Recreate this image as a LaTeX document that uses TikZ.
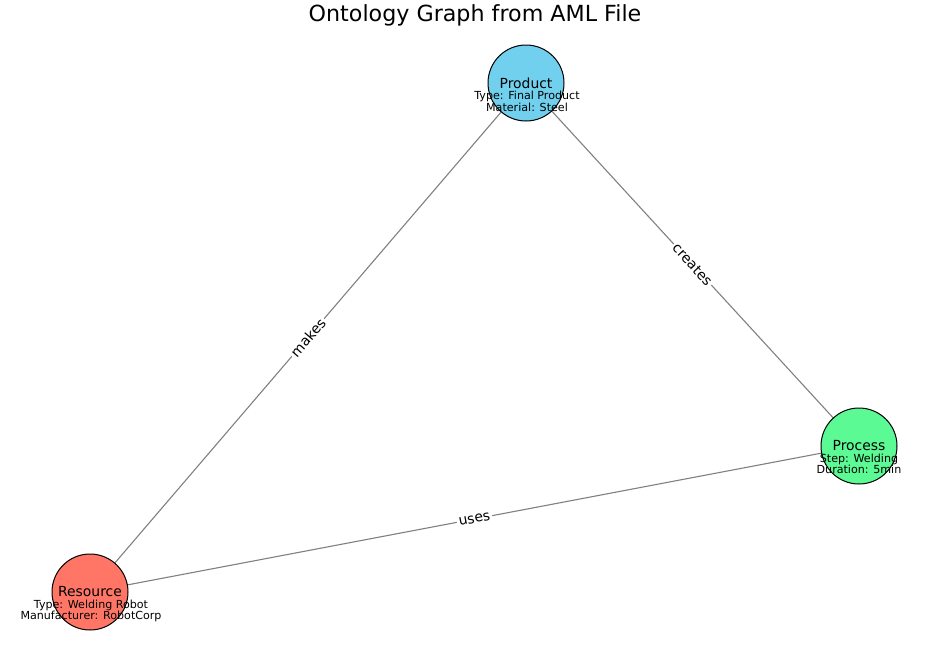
\documentclass[tikz,border=0pt]{standalone}
\usepackage{fontspec}
\setmainfont{DejaVu Sans}
\definecolor{prodc}{HTML}{70D0EE}
\definecolor{procc}{HTML}{5CFA94}
\definecolor{resc}{HTML}{FF7666}
\begin{document}
\begin{tikzpicture}[x=1pt,y=-1pt,
  ent/.style={circle,draw=black,line width=1pt,minimum size=76pt,inner sep=0pt,font=\fontsize{13.9}{16}\selectfont},
  attr/.style={align=center,inner sep=0pt,font=\fontsize{11.1}{11.6}\selectfont},
  rel/.style={draw=gray,line width=1.1pt},
  rlab/.style={sloped,fill=white,inner sep=2pt,font=\fontsize{13.9}{16}\selectfont,pos=0.5}]
\useasboundingbox (0,0) rectangle (950,656);
\node[font=\fontsize{22.2}{26}\selectfont] (title) at (475,15) {Ontology Graph from AML File};
\coordinate (cprod) at (526,83);
\coordinate (cproc) at (859,446);
\coordinate (cres) at (90,592);
\draw[rel] (cres) -- node[rlab] (lmakes) {makes} (cprod);
\draw[rel] (cprod) -- node[rlab] (lcreates) {creates} (cproc);
\draw[rel] (cres) -- node[rlab] (luses) {uses} (cproc);
\node[ent,fill=prodc] (prod) at (cprod) {Product};
\node[ent,fill=procc] (proc) at (cproc) {Process};
\node[ent,fill=resc] (res) at (cres) {Resource};
\node[attr] (aprod) at (527,101.5) {Type: Final Product\\Material: Steel};
\node[attr] (aproc) at (859,464) {Step: Welding\\Duration: 5min};
\node[attr] (ares) at (91,611) {Type: Welding Robot\\Manufacturer: RobotCorp};
\end{tikzpicture}
\end{document}
